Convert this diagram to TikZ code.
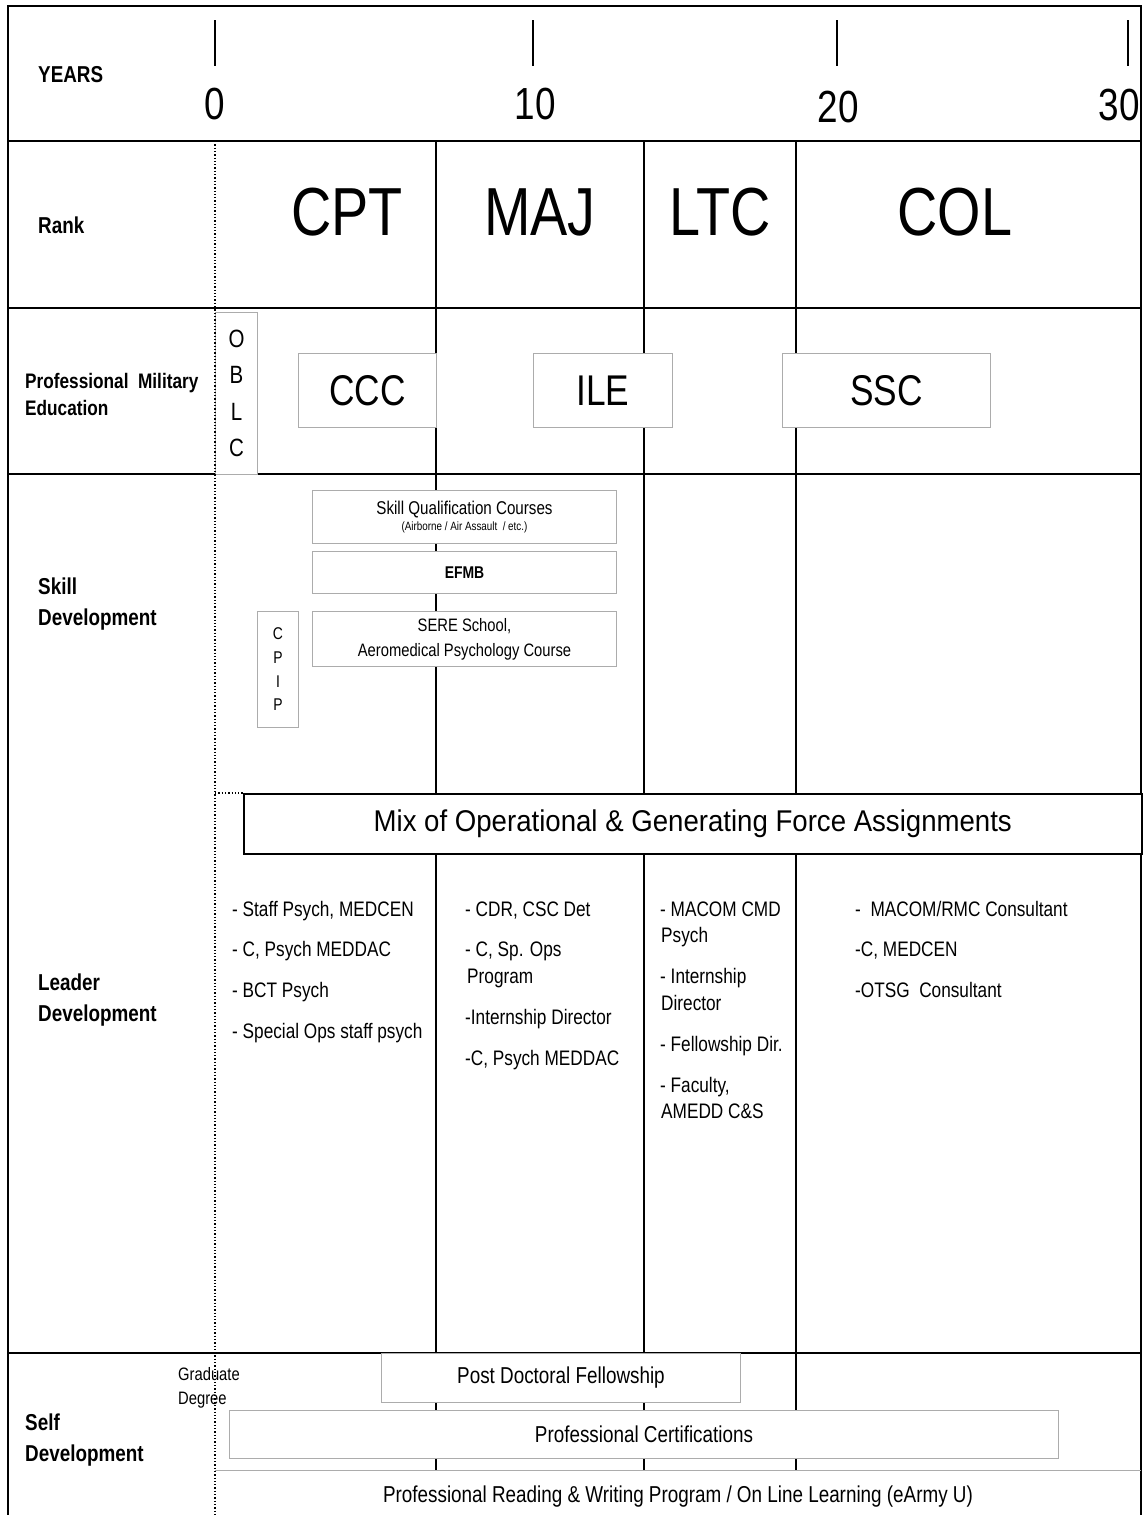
\documentclass[tikz,border=0pt]{standalone}
\usepackage{fontspec}
\setmainfont{Liberation Sans}[FakeStretch=0.82]
\newfontfamily\mixfont{Liberation Sans}[FakeStretch=0.92]
\newcommand{\fs}[2]{\fontsize{#1}{#2}\selectfont}
\begin{document}
\begin{tikzpicture}[x=1pt,y=-1pt,
  frame/.style={line width=1.8pt, black},
  vline/.style={line width=1.4pt, black},
  zeroline/.style={line width=1.3pt, black, dotted},
  gbox/.style={draw=gray!65, line width=1pt, fill=white, inner sep=0pt, anchor=north west, align=center},
  lab/.style={font=\bfseries\fs{23}{30.5}, anchor=west, align=left, inner sep=0pt},
  item/.style={font=\fs{21}{27}, anchor=base west, align=left, inner sep=0pt},
  rank/.style={font=\fs{68}{70}, inner sep=0pt},
  yr/.style={font=\fs{45}{47}, inner sep=0pt},
  tick/.style={line width=1.4pt, black},
]
\useasboundingbox (0,0) rectangle (1144,1515);
% frame and row lines
\draw[frame] (8,1515) -- (8,6) -- (1141,6) -- (1141,1515);
\foreach \yy in {141,308,474,1353} \draw[frame] (8,\yy) -- (1141,\yy);
% vertical rank separators
\foreach \xx in {436,644,796} \draw[vline] (\xx,141) -- (\xx,1470);
% year ticks
\foreach \xx in {215,533,837,1128} \draw[tick] (\xx,20) -- (\xx,66);
\node[yr] (y0) at (215,104) {0};
\node[yr] (y10) at (535,104) {10};
\node[yr] (y20) at (838,107) {20};
\node[yr] (y30) at (1119,105) {30};
% row labels
\node[lab] (lyears) at (38,75) {YEARS};
\node[lab] (lrank) at (38,225) {Rank};
\node[lab, font=\bfseries\fs{21}{27}] (lpme) at (25,394) {Professional\ \ Military\\Education};
\node[lab] (lskill) at (38,604) {Skill\\Development};
\node[lab] (llead) at (38,1000) {Leader\\Development};
\node[lab] (lself) at (25,1440) {Self\\Development};
% ranks
\node[rank] (cpt) at (347,212) {CPT};
\node[rank] (maj) at (540,212) {MAJ};
\node[rank] (ltc) at (720,212) {LTC};
\node[rank] (col) at (955,212) {COL};
% PME boxes
\node[gbox, minimum width=42pt, minimum height=162pt, font=\fs{25}{36.5}] (oblc) at (215,312) {O\\B\\L\\C};
\node[gbox, minimum width=138pt, minimum height=74pt, font=\fs{43}{47}] (ccc) at (298,353) {CCC};
\node[gbox, minimum width=139pt, minimum height=74pt, font=\fs{43}{47}] (ile) at (533,353) {ILE};
\node[gbox, minimum width=208pt, minimum height=74pt, font=\fs{43}{47}] (ssc) at (782,353) {SSC};
% skill development boxes
\node[gbox, minimum width=304pt, minimum height=53pt] (sqc) at (312,490) {{\fs{18.5}{21}Skill Qualification Courses}\\[2pt]{\fs{12}{14}(Airborne / Air Assault\ \ / etc.)}};
\node[gbox, minimum width=304pt, minimum height=42pt, font=\bfseries\fs{17}{20}] (efmb) at (312,551) {EFMB};
\node[gbox, minimum width=304pt, minimum height=55pt, font=\fs{18}{25}] (sere) at (312,611) {SERE School,\\Aeromedical Psychology Course};
\node[gbox, minimum width=41pt, minimum height=116pt, font=\fs{17}{23.7}] (cpip) at (257,611) {C\\P\\I\\P};
% mix box
\coordinate (mixleft) at (215,793);
\node[draw=black, line width=1.5pt, fill=white, minimum width=898pt, minimum height=60pt, anchor=north west, inner sep=0pt, font=\mixfont\fs{30}{31}] (mix) at (243,793) {Mix of Operational \& Generating Force Assignments};
\draw[zeroline] (mixleft) -- (mix.north west);
% leader development lists
\node[item] (a1) at (232,916) {- Staff Psych, MEDCEN};
\node[item] (a2) at (232,956) {- C, Psych MEDDAC};
\node[item] (a3) at (232,997) {- BCT Psych};
\node[item] (a4) at (232,1038) {- Special Ops staff psych};
\node[item] (b1) at (465,916) {- CDR, CSC Det};
\node[item] (b2) at (465,956) {- C, Sp. Ops};
\node[item] (b2b) at (467,983) {Program};
\node[item] (b3) at (465,1024) {-Internship Director};
\node[item] (b4) at (465,1065) {-C, Psych MEDDAC};
\node[item] (c1) at (660,916) {- MACOM CMD};
\node[item] (c1b) at (661,942) {Psych};
\node[item] (c2) at (660,983) {- Internship};
\node[item] (c2b) at (661,1010) {Director};
\node[item] (c3) at (660,1051) {- Fellowship Dir.};
\node[item] (c4) at (660,1092) {- Faculty,};
\node[item] (c4b) at (661,1118) {AMEDD C\&S};
\node[item] (d1) at (855,916) {-\ \ MACOM/RMC Consultant};
\node[item] (d2) at (855,956) {-C, MEDCEN};
\node[item] (d3) at (855,997) {-OTSG\ \ Consultant};
% self development
\node[font=\fs{18}{24}, anchor=west, align=left, inner sep=0pt] (grad) at (178,1388) {Graduate\\Degree};
\node[gbox, minimum width=359pt, minimum height=49pt, font=\fs{23}{24}] (postdoc) at (381,1353) {Post Doctoral Fellowship};
\node[gbox, minimum width=829pt, minimum height=48pt, font=\fs{23}{24}] (cert) at (229,1410) {Professional Certifications};
\coordinate (readl) at (215,1470);
\coordinate (readr) at (1141,1470);
\draw[gray!65, line width=1pt] (readl) -- (readr);
\node[font=\fs{23}{24}, inner sep=0pt] (reading) at (678,1497) {Professional Reading \& Writing Program / On Line Learning (eArmy U)};
% zero line (dotted)
\coordinate (ztop) at (215,141);
\coordinate (zbot) at (215,1515);
\draw[zeroline] (ztop) -- (zbot);
\end{tikzpicture}
\end{document}
